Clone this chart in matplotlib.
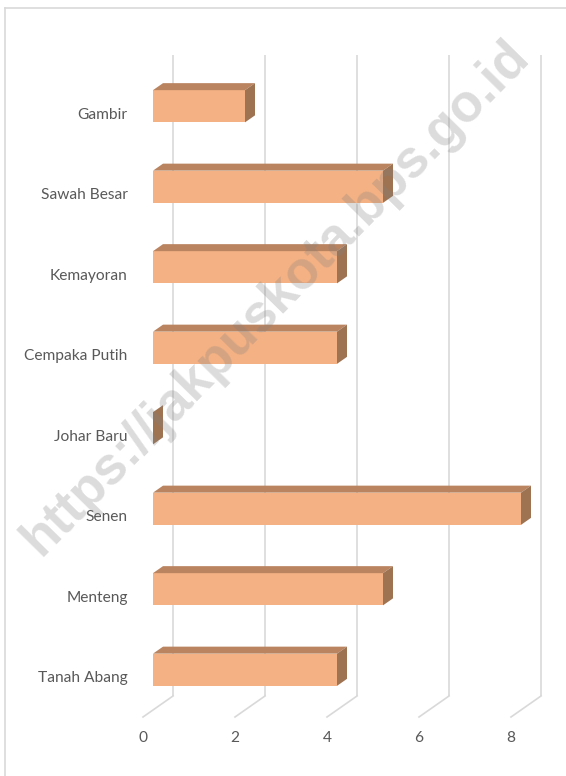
import matplotlib.pyplot as plt
from matplotlib.patches import Polygon

# data (bottom to top, as drawn)
kecamatan = ["Tanah Abang", "Menteng", "Senen", "Johar Baru",
             "Cempaka Putih", "Kemayoran", "Sawah Besar", "Gambir"]
jumlah = [4, 5, 8, 0, 4, 4, 5, 2]
x_ticks = [0, 2, 4, 6, 8]

# colours
front_col = "#F4B183"
top_col = "#BA8460"
side_col = "#9E7352"
grid_col = "#D9D9D9"
text_col = "#595959"

W, H = 566, 776
fig = plt.figure(figsize=(W / 100, H / 100), dpi=100)

# front plane: value 0 at px 143, 46 px per unit; rows 80.5 px apart
px_unit = 46.0
px_row = 80.5
x0_px, floor_px = 143, 717
ax = fig.add_axes([x0_px / W, (H - floor_px) / H, 8 * px_unit / W, 8 * px_row / H])
ax.set_xlim(0, 8)
ax.set_ylim(-0.5, 7.5)

# depth offsets (full depth = 30 px right, 21 px up)
DX = 30 / px_unit
DY = 21 / px_row
bar_h = 0.4


def off(d):
    return d * DX, d * DY


# back wall gridlines + floor diagonals
for k in x_ticks:
    wx, wy = off(1)
    ax.plot([k + wx, k + wx], [-0.5 + wy, 7.5 + wy - 0.04], color=grid_col, lw=1.2,
            clip_on=False, zorder=1, solid_capstyle="butt")
    ax.plot([k, k + wx], [-0.5, -0.5 + wy], color=grid_col, lw=1.2,
            clip_on=False, zorder=1)

# 3d bars
fx, fy = off(1 / 3)
bx, by = off(2 / 3)
for i, v in enumerate(jumlah):
    y_lo = i - bar_h / 2
    y_hi = i + bar_h / 2
    front = Polygon([(fx, y_lo + fy), (v + fx, y_lo + fy), (v + fx, y_hi + fy), (fx, y_hi + fy)],
                    closed=True, facecolor=front_col, edgecolor="none", zorder=3, clip_on=False)
    top = Polygon([(fx, y_hi + fy), (v + fx, y_hi + fy), (v + bx, y_hi + by), (bx, y_hi + by)],
                  closed=True, facecolor=top_col, edgecolor="none", zorder=3, clip_on=False)
    side = Polygon([(v + fx, y_lo + fy), (v + bx, y_lo + by), (v + bx, y_hi + by), (v + fx, y_hi + fy)],
                   closed=True, facecolor=side_col, edgecolor="none", zorder=3, clip_on=False)
    ax.add_patch(front)
    ax.add_patch(top)
    ax.add_patch(side)

# axes text
ax.set_yticks(range(len(kecamatan)))
ax.set_yticklabels(kecamatan, fontsize=11.2, color=text_col, family="Lato")
ax.set_xticks(x_ticks)
ax.set_xticklabels([str(t) for t in x_ticks], fontsize=11.2, color=text_col, family="Lato")
ax.tick_params(axis="y", length=0, pad=11)
ax.tick_params(axis="x", length=0, pad=10)
for s in ax.spines.values():
    s.set_visible(False)
ax.patch.set_visible(False)

# chart border (left and top visible)
fig.add_artist(plt.Line2D([5 / W, 5 / W], [0, 1 - 8 / H], color=grid_col, lw=1.2))
fig.add_artist(plt.Line2D([5 / W, 1], [1 - 8 / H, 1 - 8 / H], color=grid_col, lw=1.2))

# watermark
fig.text(276 / W, 1 - 298 / H, "https://jakpuskota.bps.go.id", rotation=45.5,
         ha="center", va="center", fontsize=38, fontweight="bold",
         family="Liberation Sans", color="#808080", alpha=0.28, zorder=10)

fig.savefig("out.png", dpi=100)
